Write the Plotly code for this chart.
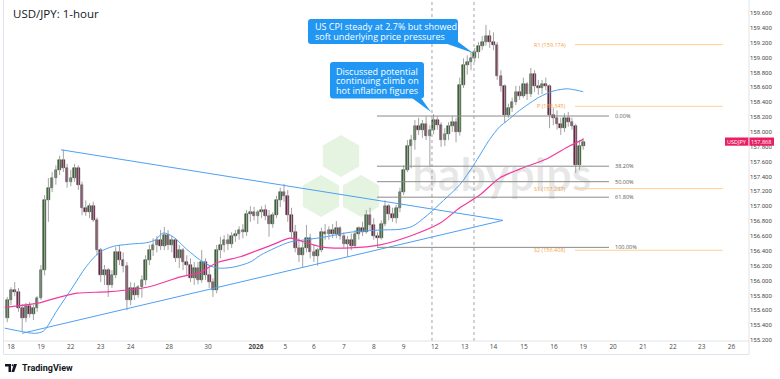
import plotly.graph_objects as go

# ------------------------------------------------------------------ data
TITLE = "USD/JPY: 1-hour"

# x axis: hourly bar index (weekend gaps removed); day labels at session starts
day_tick_pos = [0, 24, 48, 72, 96, 127, 158, 196.5, 220, 243, 267, 291, 315,
                340, 364, 387, 411.5, 435.5, 459, 483, 507, 531, 554, 578]
day_tick_text = ["18", "19", "22", "23", "24", "28", "30", "<b>2026</b>", "5", "6",
                 "7", "8", "9", "12", "13", "14", "15", "16", "19", "20", "21",
                 "22", "23", "26"]

# candles (3-hour aggregation of the hourly chart), first at bar -3
candle_start = -3
candle_step = 3
opens = [155.50, 155.74, 155.87, 155.85, 155.63, 155.50, 155.66, 155.55, 155.63, 155.77,
         156.14, 157.08, 157.25, 157.38, 157.49, 157.62, 157.51, 157.33, 157.38, 157.51,
         157.29, 156.98, 156.92, 157.00, 156.81, 156.41, 156.07, 156.14, 155.94, 156.07,
         156.38, 156.28, 156.20, 155.74, 155.90, 155.81, 155.91, 156.01, 156.28, 156.41,
         156.48, 156.55, 156.46, 156.61, 156.48, 156.55, 156.30, 156.41, 156.25, 156.21,
         156.03, 156.17, 156.01, 156.25, 156.07, 155.98, 155.87, 156.41, 156.48, 156.55,
         156.49, 156.60, 156.63, 156.68, 156.65, 156.90, 156.92, 156.87, 156.92, 156.95,
         156.87, 156.76, 156.88, 157.08, 157.19, 157.14, 156.88, 156.65, 156.44, 156.34,
         156.44, 156.57, 156.38, 156.33, 156.41, 156.65, 156.63, 156.68, 156.63, 156.71,
         156.60, 156.49, 156.55, 156.46, 156.63, 156.71, 156.65, 156.88, 156.75, 156.60,
         156.57, 156.76, 157.00, 156.90, 156.84, 156.98, 157.19, 157.49, 157.81, 157.89,
         158.08, 158.03, 158.11, 157.95, 158.03, 158.16, 158.09, 157.89, 157.97, 158.08,
         158.13, 158.00, 158.63, 158.90, 158.94, 158.99, 159.08, 159.16, 159.21, 159.29,
         159.21, 159.17, 158.75, 158.62, 158.23, 158.32, 158.40, 158.54, 158.48, 158.64,
         158.51, 158.78, 158.62, 158.59, 158.64, 158.62, 158.23, 158.19, 158.11, 158.05,
         158.19, 158.13, 158.08, 157.55, 157.81]
highs = [155.78, 155.91, 155.98, 155.90, 155.68, 155.70, 155.71, 155.67, 155.79, 156.21,
         157.15, 157.38, 157.46, 157.55, 157.68, 157.76, 157.57, 157.49, 157.57, 157.55,
         157.33, 157.08, 157.04, 157.06, 156.85, 156.44, 156.21, 156.17, 156.14, 156.45,
         156.48, 156.38, 156.25, 155.98, 155.97, 155.94, 156.07, 156.34, 156.48, 156.57,
         156.60, 156.68, 156.72, 156.68, 156.60, 156.57, 156.48, 156.44, 156.34, 156.30,
         156.25, 156.25, 156.41, 156.30, 156.21, 156.03, 156.48, 156.59, 156.61, 156.63,
         156.65, 156.68, 156.73, 156.76, 156.95, 157.00, 156.99, 156.95, 157.00, 157.02,
         156.95, 156.92, 157.14, 157.25, 157.30, 157.22, 156.98, 156.75, 156.57, 156.52,
         156.75, 156.63, 156.48, 156.44, 156.71, 156.76, 156.73, 156.76, 156.80, 156.73,
         156.65, 156.60, 156.63, 156.68, 156.73, 156.79, 156.95, 156.98, 156.84, 156.65,
         156.81, 157.08, 157.03, 156.98, 157.02, 157.25, 157.55, 157.89, 157.96, 158.16,
         158.19, 158.16, 158.21, 158.09, 158.24, 158.21, 158.13, 158.05, 158.13, 158.21,
         158.19, 158.73, 158.99, 159.03, 159.08, 159.13, 159.21, 159.29, 159.44, 159.37,
         159.34, 159.21, 158.83, 158.64, 158.38, 158.46, 158.62, 158.62, 158.73, 158.67,
         158.86, 158.83, 158.70, 158.70, 158.73, 158.64, 158.32, 158.29, 158.19, 158.25,
         158.27, 158.19, 158.11, 157.89, 157.92]
lows = [155.44, 155.67, 155.79, 155.58, 155.32, 155.44, 155.50, 155.47, 155.58, 155.74,
        156.07, 156.79, 157.19, 157.29, 157.42, 157.46, 157.25, 157.27, 157.33, 157.22,
        156.88, 156.87, 156.84, 156.79, 156.34, 155.98, 155.94, 155.78, 155.90, 156.03,
        156.21, 156.11, 155.60, 155.67, 155.74, 155.77, 155.77, 155.94, 156.21, 156.33,
        156.38, 156.41, 156.41, 156.41, 156.38, 156.25, 156.17, 156.14, 156.07, 155.98,
        155.94, 155.95, 155.97, 156.01, 155.90, 155.78, 155.83, 156.30, 156.38, 156.41,
        156.44, 156.52, 156.55, 156.57, 156.60, 156.79, 156.81, 156.76, 156.84, 156.81,
        156.59, 156.71, 156.84, 156.99, 157.06, 156.79, 156.57, 156.38, 156.25, 156.18,
        156.38, 156.30, 156.25, 156.20, 156.38, 156.55, 156.55, 156.57, 156.57, 156.55,
        156.44, 156.32, 156.41, 156.44, 156.55, 156.60, 156.63, 156.68, 156.55, 156.45,
        156.55, 156.73, 156.81, 156.79, 156.77, 156.92, 157.15, 157.46, 157.51, 157.76,
        157.96, 157.92, 157.89, 157.53, 157.97, 158.03, 157.80, 157.81, 157.89, 158.00,
        157.86, 157.95, 158.59, 158.77, 158.83, 158.94, 158.99, 159.10, 159.16, 159.13,
        159.10, 158.70, 158.54, 158.12, 158.19, 158.27, 158.36, 158.43, 158.46, 158.43,
        158.47, 158.54, 158.50, 158.51, 158.56, 158.05, 158.09, 158.03, 157.96, 158.00,
        158.07, 158.03, 157.45, 157.49, 157.76]
closes = [155.74, 155.87, 155.85, 155.63, 155.50, 155.66, 155.55, 155.63, 155.77, 156.14,
          157.08, 157.25, 157.38, 157.49, 157.62, 157.51, 157.33, 157.38, 157.51, 157.29,
          156.98, 156.92, 157.00, 156.81, 156.41, 156.07, 156.14, 155.94, 156.07, 156.38,
          156.28, 156.20, 155.74, 155.90, 155.81, 155.91, 156.01, 156.28, 156.41, 156.48,
          156.55, 156.46, 156.61, 156.48, 156.55, 156.30, 156.41, 156.25, 156.21, 156.03,
          156.17, 156.01, 156.25, 156.07, 155.98, 155.87, 156.41, 156.48, 156.55, 156.49,
          156.60, 156.63, 156.68, 156.65, 156.90, 156.92, 156.87, 156.92, 156.95, 156.87,
          156.76, 156.88, 157.08, 157.19, 157.14, 156.88, 156.65, 156.44, 156.34, 156.44,
          156.57, 156.38, 156.33, 156.41, 156.65, 156.63, 156.68, 156.63, 156.71, 156.60,
          156.49, 156.55, 156.46, 156.63, 156.71, 156.65, 156.88, 156.75, 156.60, 156.57,
          156.76, 157.00, 156.90, 156.84, 156.98, 157.19, 157.49, 157.81, 157.89, 158.08,
          158.03, 158.11, 157.95, 158.03, 158.16, 158.09, 157.89, 157.97, 158.08, 158.13,
          158.00, 158.63, 158.90, 158.94, 158.99, 159.08, 159.16, 159.21, 159.29, 159.21,
          159.17, 158.75, 158.62, 158.23, 158.32, 158.40, 158.54, 158.48, 158.64, 158.51,
          158.78, 158.62, 158.59, 158.64, 158.62, 158.23, 158.19, 158.11, 158.05, 158.19,
          158.13, 158.08, 157.55, 157.81, 157.868]

# moving averages
ma_blue_x = [-5, 7, 19, 26, 37, 49, 60, 71, 82, 95, 109, 116, 122, 130, 141, 154, 165,
             178, 192, 200, 212, 224, 237, 253, 272, 296, 312, 322, 334, 347, 360, 371,
             384, 392, 398, 408, 424, 435, 446, 454, 459]
ma_blue_y = [155.36, 155.32, 155.29, 155.32, 155.60, 155.90, 156.18, 156.38, 156.46, 156.49,
             156.51, 156.55, 156.64, 156.59, 156.42, 156.25, 156.17, 156.18, 156.25, 156.34,
             156.44, 156.52, 156.55, 156.59, 156.65, 156.68, 156.69, 156.73, 156.88, 157.08,
             157.29, 157.55, 157.90, 158.07, 158.15, 158.29, 158.47, 158.55, 158.58, 158.56,
             158.54]
ma_pink_x = [-5, 23, 31, 53, 79, 109, 136, 152, 165, 184, 192, 208, 224, 229, 250, 272,
             296, 322, 344, 360, 376, 392, 408, 430, 448, 459]
ma_pink_y = [155.64, 155.70, 155.74, 155.83, 155.85, 155.91, 156.05, 156.11, 156.24, 156.32,
             156.37, 156.47, 156.57, 156.55, 156.45, 156.44, 156.48, 156.61, 156.77, 156.98,
             157.15, 157.38, 157.50, 157.64, 157.81, 157.90]

# triangle trendlines
trend_upper_x = [40.1, 394.6]
trend_upper_y = [157.76, 156.81]
trend_lower_x = [8.8, 394.6]
trend_lower_y = [155.29, 156.81]

# Fibonacci retracement
fib_high = 158.214
fib_low = 156.447
fib_ratios = [0.0, 0.382, 0.5, 0.618, 1.0]
fib_labels = ["0.00%", "38.20%", "50.00%", "61.80%", "100.00%"]
fib_x0, fib_x1, fib_label_x = 293.6, 479.7, 482.9

# pivot points
pivot_names = ["R1", "P", "S1", "S2"]
pivot_values = [159.174, 158.345, 157.237, 156.408]
pivot_x0, pivot_x1, pivot_label_x = 452.4, 571.0, 446.8

event_bars = [337.7, 371.4]
last_price = 157.868
symbol = "USDJPY"

callout_cpi = ["US CPI steady at 2.7% but showed", "soft underlying price pressures"]
callout_climb = ["Discussed potential", "continuing climb on", "hot inflation figures"]

# ------------------------------------------------------------------ layout constants
W, H = 780, 379
PL, PR, PT, PB = 4, 749, 0, 341
X_RANGE = [-5.6, 592.0]
Y_RANGE = [155.187, 159.775]
FONT = "Open Sans"
UP, DN = "#3a7332", "#82204d"
BLUE, PINK = "#4da0f2", "#f23a9c"
CALLOUT = "#2196f3"


def px(x):
    return (x - PL) / (PR - PL)


def py(y):
    return 1 - (y - PT) / (PB - PT)


def P(x, y):
    return f"{px(x):.5f},{py(y):.5f}"


def rrect(x0, y0, x1, y1, r):
    return (f"M{P(x0 + r, y0)} L{P(x1 - r, y0)} Q{P(x1, y0)} {P(x1, y0 + r)} "
            f"L{P(x1, y1 - r)} Q{P(x1, y1)} {P(x1 - r, y1)} L{P(x0 + r, y1)} "
            f"Q{P(x0, y1)} {P(x0, y1 - r)} L{P(x0, y0 + r)} Q{P(x0, y0)} {P(x0 + r, y0)} Z")


def hexagon(cx, cy, r):
    pts = [(cx, cy - r), (cx + 0.866 * r, cy - r / 2), (cx + 0.866 * r, cy + r / 2),
           (cx, cy + r), (cx - 0.866 * r, cy + r / 2), (cx - 0.866 * r, cy - r / 2)]
    return "M" + " L".join(P(a, b) for a, b in pts) + " Z"


xs = [candle_start + candle_step * i for i in range(len(closes))]

fig = go.Figure()

# watermark text (under everything)
fig.add_trace(go.Scatter(x=[393.8], y=[157.353], mode="text", text=["<b>babypips</b>"],
                         textfont=dict(family="Lato", size=45, color="rgba(0,0,0,0.09)"),
                         hoverinfo="skip", showlegend=False))

# wicks
wx, wy = [], []
for x, h, l in zip(xs, highs, lows):
    wx += [x, x, None]
    wy += [l, h, None]
fig.add_trace(go.Scatter(x=wx, y=wy, mode="lines", line=dict(color="#a3a3a3", width=1),
                         hoverinfo="skip", showlegend=False))

# bodies
fig.add_trace(go.Bar(x=xs,
                     y=[max(abs(c - o), 0.008) for o, c in zip(opens, closes)],
                     base=[min(o, c) for o, c in zip(opens, closes)],
                     width=2.1,
                     marker=dict(color=[UP if c >= o else DN for o, c in zip(opens, closes)],
                                 line=dict(color="#1e1e1e", width=0.5)),
                     hoverinfo="skip", showlegend=False))

# moving averages
fig.add_trace(go.Scatter(x=ma_blue_x, y=ma_blue_y, mode="lines",
                         line=dict(color=BLUE, width=1, shape="spline", smoothing=0.8),
                         hoverinfo="skip", showlegend=False))
fig.add_trace(go.Scatter(x=ma_pink_x, y=ma_pink_y, mode="lines",
                         line=dict(color=PINK, width=1.2, shape="spline", smoothing=0.8),
                         hoverinfo="skip", showlegend=False))

# trendlines
for tx, ty in [(trend_upper_x, trend_upper_y), (trend_lower_x, trend_lower_y)]:
    fig.add_trace(go.Scatter(x=tx, y=ty, mode="lines", line=dict(color=BLUE, width=1),
                             hoverinfo="skip", showlegend=False))

shapes = []
annotations = []

# watermark hexagons
for cx, cy in [(341, 156), (321, 196), (361, 196)]:
    shapes.append(dict(type="path", xref="paper", yref="paper", path=hexagon(cx, cy, 21),
                       fillcolor="#e4f4e1", line=dict(width=0), layer="below"))

# event lines
for eb in event_bars:
    shapes.append(dict(type="line", xref="x", yref="paper", x0=eb, x1=eb, y0=0, y1=1,
                       line=dict(color="#a0a3ab", width=1, dash="dot")))

# fib lines
for r, lab in zip(fib_ratios, fib_labels):
    lvl = fib_high - (fib_high - fib_low) * r
    shapes.append(dict(type="line", xref="x", yref="y", x0=fib_x0, x1=fib_x1, y0=lvl, y1=lvl,
                       line=dict(color="#8a8a8a", width=1)))
    annotations.append(dict(x=fib_label_x, y=lvl, xref="x", yref="y", text=lab,
                            showarrow=False, xanchor="left", yanchor="middle",
                            font=dict(family=FONT, size=5.5, color="#555555")))

# pivots
for name, val in zip(pivot_names, pivot_values):
    shapes.append(dict(type="line", xref="x", yref="y", x0=pivot_x0, x1=pivot_x1, y0=val, y1=val,
                       line=dict(color="#ffcf8f", width=1)))
    annotations.append(dict(x=pivot_label_x, y=val, xref="x", yref="y",
                            text=f"{name} ({val:.3f})", showarrow=False,
                            xanchor="right", yanchor="middle",
                            font=dict(family=FONT, size=5.5, color="#f5a33f")))

# callouts
shapes.append(dict(type="path", xref="paper", yref="paper", path=rrect(308, 19, 458, 44, 3),
                   fillcolor=CALLOUT, line=dict(width=0)))
shapes.append(dict(type="path", xref="paper", yref="paper",
                   path=f"M{P(446, 43.5)} L{P(473, 53)} L{P(457, 41)} Z",
                   fillcolor=CALLOUT, line=dict(width=0)))
shapes.append(dict(type="path", xref="paper", yref="paper", path=rrect(330, 62, 424, 98.5, 3),
                   fillcolor=CALLOUT, line=dict(width=0)))
shapes.append(dict(type="path", xref="paper", yref="paper",
                   path=f"M{P(412, 98)} L{P(431, 112)} L{P(421, 98)} Z",
                   fillcolor=CALLOUT, line=dict(width=0)))
for i, line in enumerate(callout_cpi):
    annotations.append(dict(x=px(313), y=py(26.7 + 9.4 * i), xref="paper", yref="paper",
                            text=line, showarrow=False, xanchor="left", yanchor="middle",
                            font=dict(family=FONT, size=9, color="white")))
for i, line in enumerate(callout_climb):
    annotations.append(dict(x=px(333.5), y=py(71 + 9.5 * i), xref="paper", yref="paper",
                            text=line, showarrow=False, xanchor="left", yanchor="middle",
                            font=dict(family=FONT, size=9, color="white")))

# title
annotations.append(dict(x=px(11), y=py(14), xref="paper", yref="paper", text=TITLE,
                        showarrow=False, xanchor="left", yanchor="middle",
                        font=dict(family=FONT, size=11.5, color="#131722")))

# price tag
tag_y = py(141.6)
shapes.append(dict(type="rect", xref="paper", yref="paper", x0=px(725), x1=px(748.5),
                   y0=py(137.5), y1=py(145.7), fillcolor="#e91e63", line=dict(width=0)))
shapes.append(dict(type="rect", xref="paper", yref="paper", x0=px(748.5), x1=px(774),
                   y0=py(137.5), y1=py(145.7), fillcolor="#e91e63", line=dict(width=0)))
annotations.append(dict(x=px(736.8), y=tag_y, xref="paper", yref="paper", text=symbol,
                        showarrow=False, xanchor="center", yanchor="middle",
                        font=dict(family=FONT, size=5.5, color="white")))
annotations.append(dict(x=px(761.2), y=tag_y, xref="paper", yref="paper",
                        text=f"{last_price:.3f}", showarrow=False, xanchor="center",
                        yanchor="middle", font=dict(family=FONT, size=5.5, color="white")))

# frame lines
frame = "#e0e3eb"
shapes.append(dict(type="line", xref="paper", yref="paper", x0=0, x1=1, y0=py(341), y1=py(341),
                   line=dict(color=frame, width=1)))
shapes.append(dict(type="line", xref="paper", yref="paper", x0=0, x1=1, y0=py(354.5), y1=py(354.5),
                   line=dict(color=frame, width=1)))
shapes.append(dict(type="line", xref="paper", yref="paper", x0=1, x1=1, y0=py(354.5), y1=1,
                   line=dict(color=frame, width=1)))
shapes.append(dict(type="line", xref="paper", yref="paper", x0=px(3.5), x1=px(3.5), y0=py(354.5), y1=1,
                   line=dict(color=frame, width=1)))

# TradingView logo
shapes.append(dict(type="path", xref="paper", yref="paper",
                   path=f"M{P(5, 364)} L{P(11, 364)} L{P(11, 372)} L{P(8.5, 372)} L{P(8.5, 366.5)} L{P(5, 366.5)} Z",
                   fillcolor="#131722", line=dict(width=0)))
shapes.append(dict(type="circle", xref="paper", yref="paper", x0=px(11.6), x1=px(13.6),
                   y0=py(366.2), y1=py(364.2), fillcolor="#131722", line=dict(width=0)))
shapes.append(dict(type="path", xref="paper", yref="paper",
                   path=f"M{P(14, 364)} L{P(17, 364)} L{P(14.2, 372)} L{P(11.4, 372)} Z",
                   fillcolor="#131722", line=dict(width=0)))
annotations.append(dict(x=px(19.5), y=py(368), xref="paper", yref="paper", text="<b>TradingView</b>",
                        showarrow=False, xanchor="left", yanchor="middle",
                        font=dict(family="Roboto", size=9, color="#131722")))

fig.update_layout(
    width=W, height=H,
    margin=dict(l=PL, r=W - PR, t=PT, b=H - PB),
    paper_bgcolor="white", plot_bgcolor="white",
    showlegend=False,
    shapes=shapes, annotations=annotations,
    xaxis=dict(range=X_RANGE, tickmode="array", tickvals=day_tick_pos, ticktext=day_tick_text,
               showgrid=False, zeroline=False, showline=False, ticks="",
               tickfont=dict(family=FONT, size=6.5, color="#4a4a4a"), fixedrange=True),
    yaxis=dict(range=Y_RANGE, side="right", tickmode="linear", tick0=155.2, dtick=0.2,
               tickformat=".3f", showgrid=False, zeroline=False, showline=False, ticks="",
               tickfont=dict(family="Roboto", size=6, color="#4a4a4a"), fixedrange=True),
    bargap=0,
)

fig.write_html("out.html", config={"displayModeBar": False},
               post_script="document.body.style.margin='0';document.body.style.overflow='hidden';")
